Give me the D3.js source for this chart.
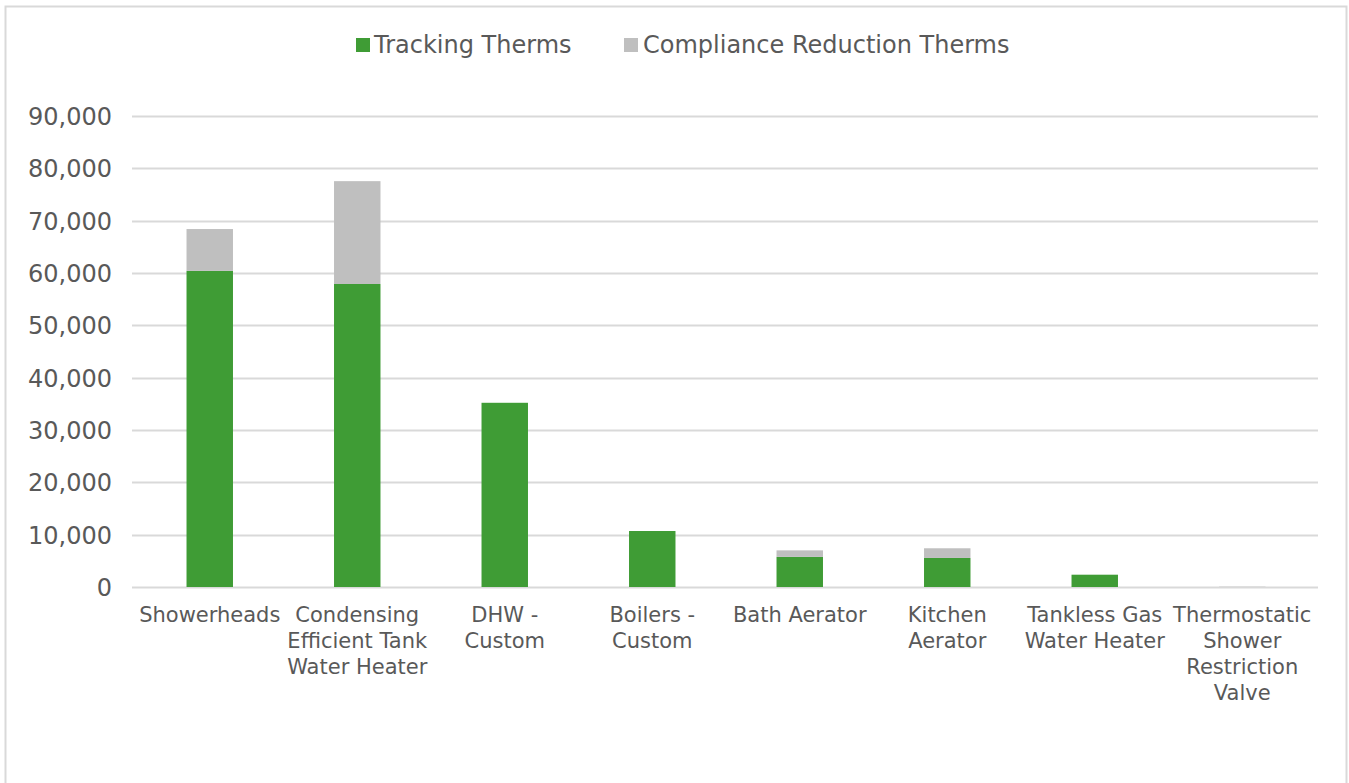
<!DOCTYPE html>
<html>
<head>
<meta charset="utf-8">
<script src="https://cdn.jsdelivr.net/npm/d3@7"></script>
<style>
  html, body { margin: 0; padding: 0; background: #fff; }
  svg { display: block; }
  text { font-family: "DejaVu Sans", Verdana, sans-serif; fill: #595959; }
</style>
</head>
<body>
<svg id="chart" width="1349" height="783"></svg>
<script>
const categories = ["Showerheads", "Condensing Efficient Tank Water Heater", "DHW - Custom", "Boilers - Custom", "Bath Aerator", "Kitchen Aerator", "Tankless Gas Water Heater", "Thermostatic Shower Restriction Valve"];
const categoryLabelLines = [["Showerheads"], ["Condensing", "Efficient Tank", "Water Heater"], ["DHW -", "Custom"], ["Boilers -", "Custom"], ["Bath Aerator"], ["Kitchen", "Aerator"], ["Tankless Gas", "Water Heater"], ["Thermostatic", "Shower", "Restriction", "Valve"]];
const trackingTherms = [60400, 57900, 35200, 10700, 5750, 5550, 2350, 0];
const complianceReductionTherms = [8000, 19650, 0, 0, 1250, 1850, 0, 60];
const seriesNames = ["Tracking Therms", "Compliance Reduction Therms"];
const seriesColors = ["#3f9c35", "#bfbfbf"];
const yTicks = [0, 10000, 20000, 30000, 40000, 50000, 60000, 70000, 80000, 90000];

const svg = d3.select("#chart");

// outer border
svg.append("rect").attr("x", 5.5).attr("y", 6.5).attr("width", 1341).attr("height", 790)
  .attr("fill", "#fff").attr("stroke", "#d9d9d9").attr("stroke-width", 2);

const plot = { left: 136, right: 1316, top: 116, bottom: 587 };

const x = d3.scaleBand().domain(categories).range([plot.left, plot.right]).paddingInner(0.685).paddingOuter(0.3425);
const y = d3.scaleLinear().domain([0, 90000]).range([plot.bottom, plot.top]);

// gridlines
const gGrid = svg.append("g");
gGrid.selectAll("line").data(yTicks).join("line")
  .attr("x1", plot.left - 4).attr("x2", plot.right + 2)
  .attr("y1", d => Math.round(y(d)) + 0.5).attr("y2", d => Math.round(y(d)) + 0.5)
  .attr("stroke", "#d9d9d9").attr("stroke-width", 2);

const yAxis = d3.axisLeft(y).tickValues(yTicks).tickSize(0).tickPadding(0).tickFormat(d3.format(","));
const gy = svg.append("g").attr("transform", `translate(${plot.left - 24},0)`).call(yAxis);
gy.select(".domain").remove();
gy.selectAll("text").attr("font-size", 24).attr("fill", "#595959")
  .style("font-family", '"DejaVu Sans", Verdana, sans-serif').attr("dy", "0.35em");

// stacked bars
const rows = categories.map((c, i) => ({ cat: c, t: trackingTherms[i], c: complianceReductionTherms[i] }));
const stack = d3.stack().keys(["t", "c"]);
const layers = stack(rows);
svg.append("g").selectAll("g").data(layers).join("g")
  .attr("fill", (d, i) => seriesColors[i])
  .selectAll("rect").data(d => d).join("rect")
  .attr("x", d => x(d.data.cat))
  .attr("width", x.bandwidth())
  .attr("y", d => y(d[1]))
  .attr("height", d => Math.max(0, y(d[0]) - y(d[1])));

// x axis labels
const xAxis = d3.axisBottom(x).tickSize(0).tickFormat("");
const gx = svg.append("g").attr("transform", `translate(0,${plot.bottom})`).call(xAxis);
gx.select(".domain").remove();
gx.selectAll(".tick").each(function(d, i) {
  const t = d3.select(this).append("text").attr("text-anchor", "middle").attr("font-size", 21).attr("fill", "#595959")
    .style("font-family", '"DejaVu Sans", Verdana, sans-serif');
  categoryLabelLines[i].forEach((line, j) => {
    t.append("tspan").attr("x", 0).attr("y", 35 + j * 26).text(line);
  });
});

// legend
const legend = svg.append("g");
const legendItems = [{ x: 356, tx: 374 }, { x: 624, tx: 643 }];
seriesNames.forEach((name, i) => {
  legend.append("rect").attr("x", legendItems[i].x).attr("y", 38).attr("width", 14).attr("height", 14).attr("fill", seriesColors[i]);
  legend.append("text").attr("x", legendItems[i].tx).attr("y", 53).attr("font-size", 24).text(name);
});
</script>
</body>
</html>
